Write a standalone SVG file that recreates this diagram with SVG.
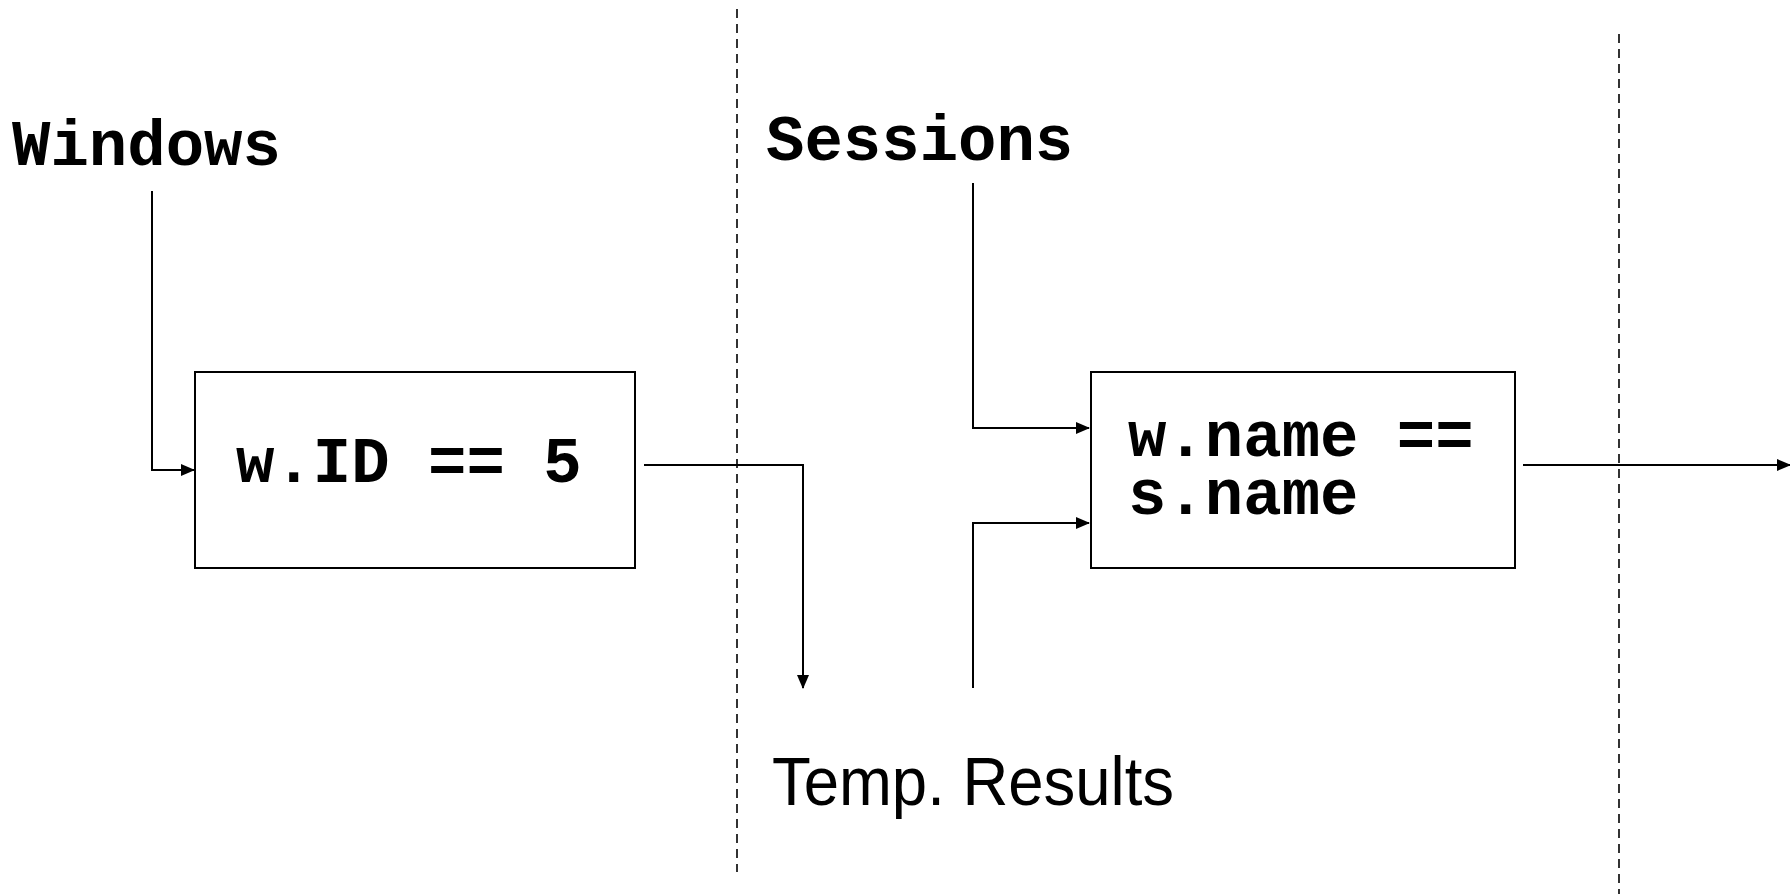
<svg xmlns="http://www.w3.org/2000/svg" width="1790" height="894" viewBox="0 0 1790 894">
<style>
.box{fill:#fff;stroke:#000;stroke-width:2}
.code{font-family:"Liberation Mono","Courier New",monospace;font-weight:bold;font-size:64px;fill:#000}
.conn{fill:none;stroke:#000;stroke-width:2}
.dash{fill:none;stroke:#000;stroke-width:1.6;stroke-dasharray:9,6}
.plain{font-family:"Liberation Sans",Arial,sans-serif;font-size:68px;fill:#000}
</style>
<defs>
<marker id="arr" markerWidth="14" markerHeight="12" refX="13" refY="6" orient="auto" markerUnits="userSpaceOnUse">
<path d="M0,0 L14,6 L0,12 Z" fill="#000"/>
</marker>
</defs>
<rect width="1790" height="894" fill="#fff"/>
<g id="dividers">
<line class="dash" x1="737" y1="9" x2="737" y2="872"/>
<line class="dash" x1="1619" y1="34" x2="1619" y2="894"/>
</g>
<g id="windows"><text class="code" x="12" y="165">Windows</text></g>
<g id="sessions"><text class="code" x="766" y="160">Sessions</text></g>
<g id="temp"><text class="plain" x="772" y="805" textLength="402" lengthAdjust="spacingAndGlyphs">Temp. Results</text></g>
<g id="filter">
<rect class="box" x="195" y="372" width="440" height="196"/>
<text class="code" x="236" y="482">w.ID == 5</text>
</g>
<g id="join">
<rect class="box" x="1091" y="372" width="424" height="196"/>
<text class="code" x="1128" y="456">w.name ==</text>
<text class="code" x="1128" y="514">s.name</text>
</g>
<g id="connectors">
<path class="conn" d="M152,191 V470 H194" marker-end="url(#arr)"/>
<path class="conn" d="M644,465 H803 V688" marker-end="url(#arr)"/>
<path class="conn" d="M973,183 V428 H1089" marker-end="url(#arr)"/>
<path class="conn" d="M973,688 V523 H1089" marker-end="url(#arr)"/>
<path class="conn" d="M1523,465 H1790" marker-end="url(#arr)"/>
</g>
</svg>
